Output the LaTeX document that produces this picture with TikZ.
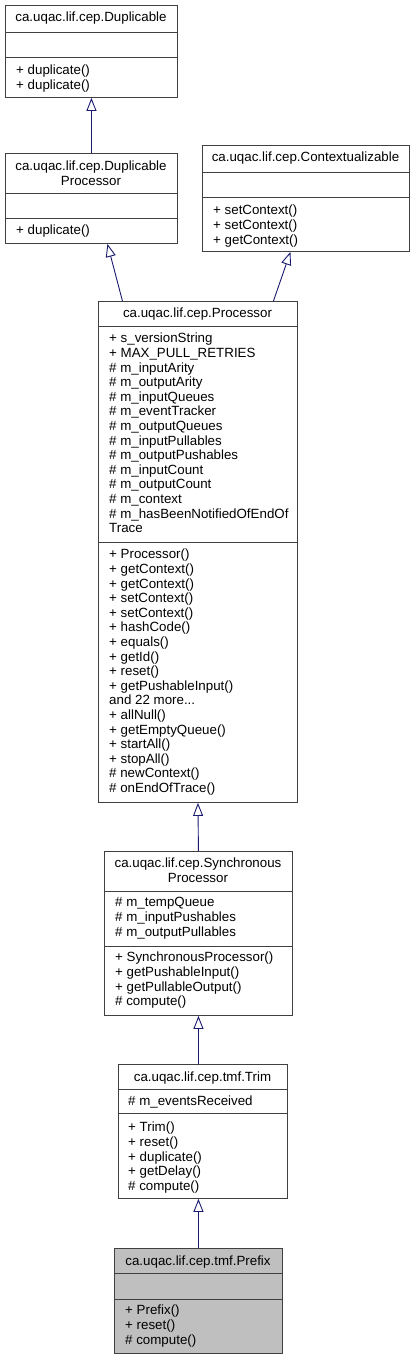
\documentclass[tikz,border=0pt]{standalone}
\usepackage{fontspec}
\setmainfont{Liberation Sans}
\usetikzlibrary{arrows.meta}
\definecolor{umlink}{HTML}{404040}
\definecolor{umlnavy}{HTML}{191970}
\definecolor{umlgrey}{HTML}{BFBFBF}
\tikzset{
  uml box/.style={draw=umlink, line width=0.9pt, fill=white, inner sep=0pt, anchor=north west},
  uml rule/.style={draw=umlink, line width=0.9pt},
  uml title/.style={anchor=north, inner sep=0pt, align=center},
  uml list/.style={anchor=north west, inner sep=0pt, align=left},
  uml inherit/.style={-{Triangle[open, length=13pt, width=10pt]}, draw=umlnavy,
    line width=0.9pt}
}

\begin{document}
\begin{tikzpicture}[x=1pt, y=-1pt, font=\fontsize{13.33}{14.6}\selectfont]
  \useasboundingbox (0,0) rectangle (415,1360);
  % Duplicable
  \node[uml box, minimum width=172pt, minimum height=92pt] (dup) at (5,5) {};
  \draw[uml rule] (5,32) -- (177,32) (5,57) -- (177,57);
  \node[uml title] (dup title) at (91,11.4) {\strut ca.uqac.lif.cep.Duplicable};
  \node[uml list] (dup ops) at (16,64.4) {\strut + duplicate()\\+ duplicate()};
  % DuplicableProcessor
  \node[uml box, minimum width=172pt, minimum height=90pt] (dupproc) at (5,153) {};
  \draw[uml rule] (5,193) -- (177,193) (5,218) -- (177,218);
  \node[uml title] (dupproc title) at (91,160.4) {\strut ca.uqac.lif.cep.Duplicable\\Processor};
  \node[uml list] (dupproc ops) at (16,224.4) {\strut + duplicate()};
  % Contextualizable
  \node[uml box, minimum width=207pt, minimum height=106pt] (ctx) at (202,145) {};
  \draw[uml rule] (202,172) -- (409,172) (202,197) -- (409,197);
  \node[uml title] (ctx title) at (305.5,151.4) {\strut ca.uqac.lif.cep.Contextualizable};
  \node[uml list] (ctx ops) at (213,204.4) {\strut + setContext()\\+ setContext()\\+ getContext()};
  % Processor
  \node[uml box, minimum width=199pt, minimum height=501pt] (proc) at (98,301) {};
  \draw[uml rule] (98,326) -- (297,326) (98,542) -- (297,542);
  \node[uml title] (proc title) at (197.5,307.4) {\strut ca.uqac.lif.cep.Processor};
  \node[uml list] (proc attrs) at (109,332.4) {\strut + s\_versionString\\+ MAX\_PULL\_RETRIES\\
    \# m\_inputArity\\\# m\_outputArity\\\# m\_inputQueues\\\# m\_eventTracker\\
    \# m\_outputQueues\\\# m\_inputPullables\\\# m\_outputPushables\\\# m\_inputCount\\
    \# m\_outputCount\\\# m\_context\\\# m\_hasBeenNotifiedOfEndOf\\Trace};
  \node[uml list] (proc ops) at (109,548.4) {\strut + Processor()\\+ getContext()\\+ getContext()\\
    + setContext()\\+ setContext()\\+ hashCode()\\+ equals()\\+ getId()\\+ reset()\\
    + getPushableInput()\\and 22 more...\\+ allNull()\\+ getEmptyQueue()\\+ startAll()\\
    + stopAll()\\\# newContext()\\\# onEndOfTrace()};
  % SynchronousProcessor
  \node[uml box, minimum width=188pt, minimum height=164pt] (sp) at (104,851) {};
  \draw[uml rule] (104,891) -- (292,891) (104,946) -- (292,946);
  \node[uml title] (sp title) at (198,857.4) {\strut ca.uqac.lif.cep.Synchronous\\Processor};
  \node[uml list] (sp attrs) at (115,896.4) {\strut \# m\_tempQueue\\\# m\_inputPushables\\\# m\_outputPullables};
  \node[uml list] (sp ops) at (115,951.4) {\strut + SynchronousProcessor()\\+ getPushableInput()\\
    + getPullableOutput()\\\# compute()};
  % Trim
  \node[uml box, minimum width=169pt, minimum height=134pt] (trim) at (118,1064) {};
  \draw[uml rule] (118,1089) -- (287,1089) (118,1113) -- (287,1113);
  \node[uml title] (trim title) at (202.5,1071.4) {\strut ca.uqac.lif.cep.tmf.Trim};
  \node[uml list] (trim attrs) at (128,1095.4) {\strut \# m\_eventsReceived};
  \node[uml list] (trim ops) at (128,1121.4) {\strut + Trim()\\+ reset()\\+ duplicate()\\+ getDelay()\\\# compute()};
  % Prefix
  \node[uml box, fill=umlgrey, minimum width=168pt, minimum height=105pt] (prefix) at (114,1248) {};
  \draw[uml rule] (114,1273) -- (282,1273) (114,1299) -- (282,1299);
  \node[uml title] (prefix title) at (198,1255.4) {\strut ca.uqac.lif.cep.tmf.Prefix};
  \node[uml list] (prefix ops) at (125,1304.4) {\strut + Prefix()\\+ reset()\\\# compute()};
  % inheritance
  \draw[uml inherit] (dupproc.north) -- (dup.south);
  \draw[uml inherit] ([xshift=-75.5pt]proc.north) -- ([xshift=16pt]dupproc.south);
  \draw[uml inherit] ([xshift=75.5pt]proc.north) -- ([xshift=-15.5pt]ctx.south);
  \draw[uml inherit] (sp.north) -- (proc.south);
  \draw[uml inherit] ([xshift=-4.5pt]trim.north) -- (sp.south);
  \draw[uml inherit] (prefix.north) -- ([xshift=-4.5pt]trim.south);
\end{tikzpicture}
\end{document}
